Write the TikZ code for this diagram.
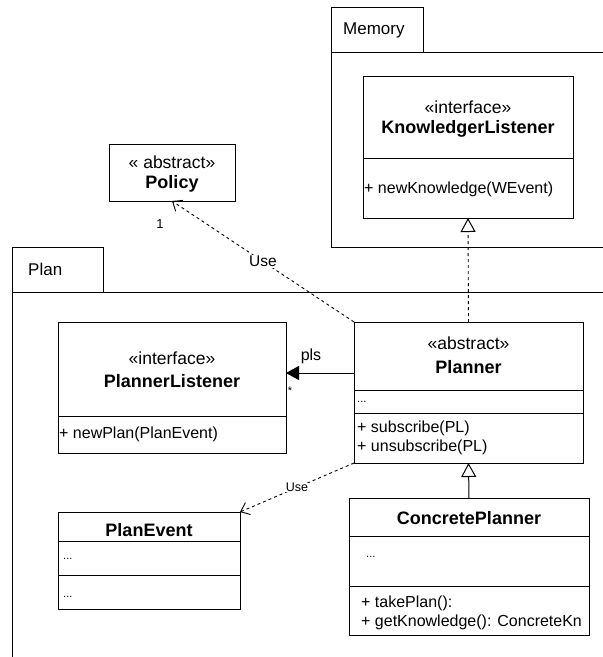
\documentclass[tikz,border=0pt]{standalone}
\usepackage{fontspec}
\setmainfont{Liberation Sans}
\usetikzlibrary{arrows.meta,calc}
\begin{document}
\begin{tikzpicture}[x=1pt,y=-1pt,
 cls/.style={draw, line width=1pt, anchor=north west, inner sep=0pt, outer sep=0pt},
 tab/.style={draw, line width=1pt, anchor=north west, inner sep=0pt, outer sep=0pt},
 pkg/.style={line width=1pt},
 divl/.style={line width=1pt},
 hd/.style={font=\fontsize{17.5}{20}\selectfont, inner sep=0pt},
 nm/.style={font=\fontsize{18}{21}\selectfont\bfseries, inner sep=0pt},
 mb/.style={font=\fontsize{16}{19}\selectfont, inner sep=0pt, anchor=west},
 dotsl/.style={font=\fontsize{11}{13}\selectfont, inner sep=0pt, anchor=west},
 dep/.style={line width=0.9pt, dash pattern=on 3pt off 3pt},
 lbl/.style={inner sep=1pt, fill=white},
 openarr/.style={-{Straight Barb[length=8pt,width=13pt,line width=0.9pt]}},
 realize/.style={-{Triangle[open,length=14pt,width=15pt,line width=1pt,fill=white]}},
 assoc/.style={line width=1pt,-{Triangle[length=13pt,width=14pt]}},
]
\useasboundingbox (0,0) rectangle (603,657);

% ---------- Memory package ----------
\node[tab, minimum width=92pt, minimum height=45pt] (memtab) at (331,7) {};
\node[font=\fontsize{17}{20}\selectfont, inner sep=0pt, anchor=west] (memlbl) at (343,30) {Memory};
\draw[pkg] (memtab.south west) -- (331,247) -- (610,247);
\draw[pkg] (memtab.south west) -- (610,52);

% ---------- Plan package ----------
\node[tab, minimum width=91pt, minimum height=45pt] (plantab) at (12,247) {};
\node[font=\fontsize{17}{20}\selectfont, inner sep=0pt, anchor=west] (planlbl) at (28,269) {Plan};
\draw[pkg] (plantab.south west) -- (610,292);
\draw[pkg] (plantab.south west) -- (12,657);

% ---------- KnowledgerListener ----------
\node[cls, minimum width=210pt, minimum height=142pt] (kl) at (363,76) {};
\draw[divl] ($(kl.north west)+(0,82)$) -- ($(kl.north east)+(0,82)$);
\node[hd] (klst) at (468,107) {«interface»};
\node[nm] (klnm) at (468,129) {KnowledgerListener};
\node[mb] (klm) at (364,189) {+ newKnowledge(WEvent)};

% ---------- Policy ----------
\node[cls, minimum width=126pt, minimum height=57pt] (pol) at (109,144) {};
\node[hd] (polst) at (172,162) {« abstract»};
\node[nm] (polnm) at (172,184) {Policy};

% ---------- PlannerListener ----------
\node[cls, minimum width=228pt, minimum height=131pt] (pl) at (58,322) {};
\draw[divl] ($(pl.north west)+(0,94)$) -- ($(pl.north east)+(0,94)$);
\node[hd] (plst) at (172,358) {«interface»};
\node[nm] (plnm) at (172,381) {PlannerListener};
\node[mb] (plm) at (59,434) {+ newPlan(PlanEvent)};

% ---------- Planner ----------
\node[cls, minimum width=229pt, minimum height=141pt] (pn) at (354,322) {};
\draw[divl] ($(pn.north west)+(0,68)$) -- ($(pn.north east)+(0,68)$);
\draw[divl] ($(pn.north west)+(0,91)$) -- ($(pn.north east)+(0,91)$);
\node[hd] (pnst) at (468.5,343) {«abstract»};
\node[nm] (pnnm) at (468.5,367) {Planner};
\node[dotsl] (pnat) at (357,402) {...};
\node[mb] (pnm1) at (357,428) {+ subscribe(PL)};
\node[mb] (pnm2) at (357,447) {+ unsubscribe(PL)};

% ---------- ConcretePlanner ----------
\node[cls, minimum width=240pt, minimum height=137pt] (cp) at (349,498) {};
\draw[divl] ($(cp.north west)+(0,38)$) -- ($(cp.north east)+(0,38)$);
\draw[divl] ($(cp.north west)+(0,88)$) -- ($(cp.north east)+(0,88)$);
\node[nm] (cpnm) at (469,518) {ConcretePlanner};
\node[dotsl] (cpat) at (366,557) {...};
\node[mb] (cpm1) at (361,603) {+ takePlan():};
\node[mb] (cpm2) at (361,622) {+ getKnowledge(): ConcreteKn};

% ---------- PlanEvent ----------
\node[cls, minimum width=182pt, minimum height=97pt] (pe) at (58,512) {};
\draw[divl] ($(pe.north west)+(0,29)$) -- ($(pe.north east)+(0,29)$);
\draw[divl] ($(pe.north west)+(0,63)$) -- ($(pe.north east)+(0,63)$);
\node[nm] (penm) at (149,530) {PlanEvent};
\node[dotsl] (peat) at (63,559) {...};
\node[dotsl] (peop) at (63,597) {...};

% ---------- connectors ----------
% Planner uses Policy
\draw[dep, openarr] (pn.north west) -- (pol.south)
  node[pos=0.5, lbl, font=\fontsize{15.5}{18}\selectfont] (use1) {Use};
\node[font=\fontsize{13}{15}\selectfont, inner sep=0pt] (one) at (160,224) {1};

% Planner realizes KnowledgerListener
\draw[dep, realize] (pn.north) -- (kl.south);

% Planner -> PlannerListener association
\coordinate (pnleft) at ($(pn.north west)+(0,51)$);
\coordinate (plright) at ($(pl.north east)+(0,51)$);
\draw[assoc] (pnleft) -- (plright);
\node[font=\fontsize{16}{19}\selectfont, inner sep=0pt] (pls) at (311,356) {pls};
\node[font=\fontsize{11}{13}\selectfont, inner sep=0pt] (star) at (290,391) {*};

% ConcretePlanner inherits Planner
\draw[line width=1pt, realize] (cp.north) -- (pn.south);

% Planner uses PlanEvent
\draw[dep, openarr] (pn.south west) -- (pe.north east)
  node[pos=0.5, lbl, inner sep=0.5pt, font=\fontsize{12.5}{15}\selectfont] (use2) {Use};
\end{tikzpicture}
\end{document}
